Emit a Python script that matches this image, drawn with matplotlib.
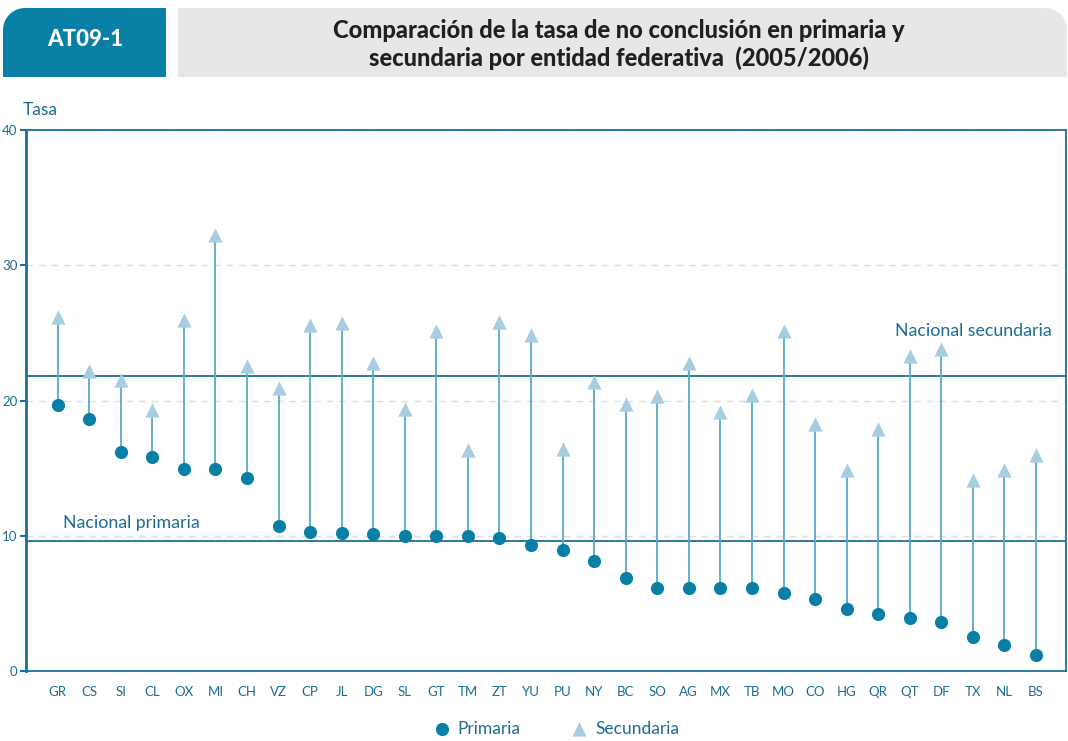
import matplotlib
matplotlib.use("Agg")
import matplotlib.pyplot as plt
import numpy as np
from matplotlib.patches import Polygon

plt.rcParams['font.family'] = ['Lato', 'DejaVu Sans']

# ---------------- data ----------------
states = ["GR", "CS", "SI", "CL", "OX", "MI", "CH", "VZ", "CP", "JL", "DG", "SL",
          "GT", "TM", "ZT", "YU", "PU", "NY", "BC", "SO", "AG", "MX", "TB", "MO",
          "CO", "HG", "QR", "QT", "DF", "TX", "NL", "BS"]
primaria = [19.7, 18.6, 16.2, 15.8, 14.9, 14.9, 14.3, 10.7, 10.3, 10.2, 10.1, 9.95,
            9.95, 9.95, 9.8, 9.3, 8.95, 8.1, 6.9, 6.15, 6.15, 6.15, 6.15, 5.8,
            5.3, 4.55, 4.2, 3.95, 3.6, 2.5, 1.9, 1.15]
secundaria = [26.2, 22.2, 21.5, 19.3, 25.95, 32.2, 22.55, 20.95, 25.6, 25.75, 22.75, 19.35,
              25.15, 16.35, 25.8, 24.85, 16.4, 21.35, 19.75, 20.3, 22.8, 19.15, 20.4, 25.15,
              18.25, 14.85, 17.9, 23.3, 23.8, 14.1, 14.85, 15.95]
nac_primaria = 9.6
nac_secundaria = 21.8
yticks = [0, 10, 20, 30, 40]

# ---------------- colours ----------------
c_axis = '#1b6f97'
c_text = '#1a6d95'
c_dot = '#0a7fa6'
c_tri = '#a7cde0'
c_stem = '#5aa8ca'

W, H = 1068, 741
fig = plt.figure(figsize=(W / 100, H / 100), dpi=100)

# ---------------- header (pixel-space overlay) ----------------
hd = fig.add_axes([0, 0, 1, 1], zorder=0)
hd.set_xlim(0, W)
hd.set_ylim(H, 0)
hd.axis('off')
hd.patch.set_alpha(0)

def rounded_box(x0, x1, y0, y1, r, corner):
    t = np.linspace(0, np.pi / 2, 20)
    if corner == 'tl':
        cx, cy = x0 + r, y0 + r
        arc = np.column_stack([cx - r * np.cos(t), cy - r * np.sin(t)])
        pts = np.vstack([[[x0, y1]], arc, [[x1, y0], [x1, y1]]])
    else:
        cx, cy = x1 - r, y0 + r
        arc = np.column_stack([cx + r * np.sin(t), cy - r * np.cos(t)])
        pts = np.vstack([[[x0, y1], [x0, y0]], arc, [[x1, y1]]])
    return pts

hd.add_patch(Polygon(rounded_box(3, 166, 8, 77, 22, 'tl'), closed=True,
                     facecolor='#0a7fa6', edgecolor='none'))
hd.add_patch(Polygon(rounded_box(178, 1067, 8, 77, 22, 'tr'), closed=True,
                     facecolor='#e6e7e9', edgecolor='none'))
hd.text(85, 40, 'AT09-1', color='white', fontsize=16, fontweight='black',
        ha='center', va='center')
hd.text(619, 30, 'Comparación de la tasa de no conclusión en primaria y',
        color='#231f20', fontsize=17, fontweight='black', ha='center', va='center')
hd.text(619, 58, 'secundaria por entidad federativa  (2005/2006)',
        color='#231f20', fontsize=17, fontweight='black', ha='center', va='center')
hd.text(23, 110, 'Tasa', color=c_text, fontsize=12.5, ha='left', va='center')

# ---------------- main axes ----------------
ax = fig.add_axes([26 / W, 70 / H, 1040 / W, 541 / H], zorder=1)
ax.patch.set_alpha(0)
x = np.arange(len(states))

ax.vlines(x, primaria, secundaria, color=c_stem, lw=1.3, zorder=2)
tri = ax.scatter(x, secundaria, marker='^', s=105, color=c_tri, zorder=3,
                 linewidths=0, label='Secundaria')
dot = ax.scatter(x, primaria, marker='o', s=90, color=c_dot, zorder=4,
                 linewidths=0, label='Primaria')

ax.axhline(nac_secundaria, color=c_axis, lw=1.3, zorder=1)
ax.axhline(nac_primaria, color=c_axis, lw=1.3, zorder=1)
ax.text(31.5, 25.15, 'Nacional secundaria', color=c_text, fontsize=12.8,
        ha='right', va='center')
ax.text(0.16, 10.95, 'Nacional primaria', color=c_text, fontsize=12.8,
        ha='left', va='center')

ax.set_xlim(-1.0, 31.95)
ax.set_ylim(0, 40)
ax.set_yticks(yticks)
ax.set_xticks(x)
ax.set_xticklabels(states)
ax.yaxis.grid(True, linestyle=(0, (5, 4)), color='#dedede', lw=1)
ax.set_axisbelow(True)

for side in ['left', 'right', 'top', 'bottom']:
    ax.spines[side].set_color(c_axis)
    ax.spines[side].set_linewidth(1.3)
ax.spines['left'].set_linewidth(2)

ax.tick_params(axis='x', length=0, pad=11, labelsize=9.5, labelcolor=c_text)
ax.tick_params(axis='y', length=4, width=1.5, color=c_axis, pad=2,
               labelsize=9.5, labelcolor=c_text)

leg = ax.legend(handles=[dot, tri], loc='center', ncol=2, frameon=False,
                bbox_to_anchor=(556 / W, 1 - 729 / H), bbox_transform=fig.transFigure,
                fontsize=12.5, handlelength=1.0, handletextpad=0.4, columnspacing=2.9,
                labelcolor=c_text, borderaxespad=0)

fig.savefig('out.png', dpi=100)
